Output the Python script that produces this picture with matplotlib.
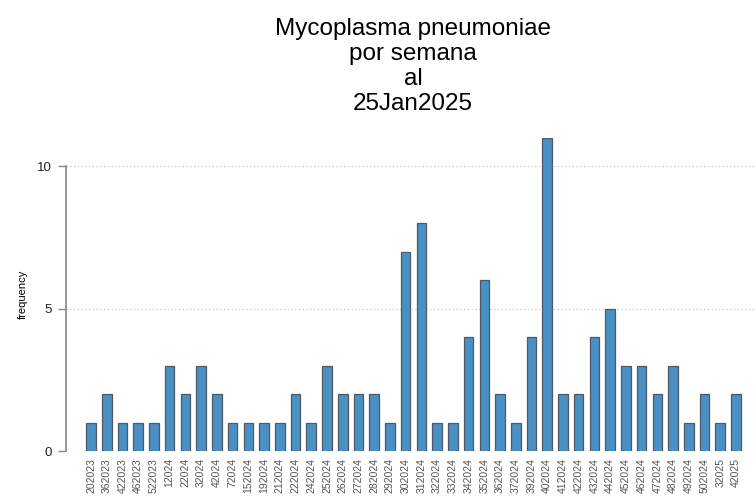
import numpy as np
import matplotlib
matplotlib.use('Agg')
import matplotlib.pyplot as plt

plt.rcParams['font.family'] = ['Liberation Sans', 'DejaVu Sans']

weeks = ['202023', '362023', '422023', '462023', '522023', '12024', '22024',
         '32024', '42024', '72024', '152024', '192024', '212024', '222024',
         '242024', '252024', '262024', '272024', '282024', '292024', '302024',
         '312024', '322024', '332024', '342024', '352024', '362024', '372024',
         '392024', '402024', '412024', '422024', '432024', '442024', '452024',
         '462024', '472024', '482024', '492024', '502024', '32025', '42025']
counts = [1, 2, 1, 1, 1, 3, 2, 3, 2, 1, 1, 1, 1, 2, 1, 3, 2, 2, 2, 1, 7, 8,
          1, 1, 4, 6, 2, 1, 4, 11, 2, 2, 4, 5, 3, 3, 2, 3, 1, 2, 1, 2]
yticks = [0, 5, 10]

fig = plt.figure(figsize=(7.56, 4.99), dpi=100)
ax = fig.add_axes([66 / 756, (499 - 451) / 499, (756 - 66) / 756, (451 - 138) / 499])

x = np.arange(len(weeks))
ax.bar(x, counts, width=0.61, color='#4a90c4', edgecolor='#4d5a66', linewidth=0.9, zorder=3)

ax.set_xlim(-1.59, len(weeks) - 1 + 1.27)
ax.set_ylim(0, 11)
ax.set_yticks(yticks)
ax.set_yticklabels([str(v) for v in yticks], fontsize=9.5, color='#222222')
ax.set_xticks(x)
ax.set_xticklabels(weeks, rotation=90, fontsize=7.5, color='#555555')
ax.tick_params(axis='x', length=0, pad=5)
ax.tick_params(axis='y', length=6, color='#888888', width=1, pad=4)

for v in yticks:
    ax.axhline(v, color='#c8c8c8', linestyle=(0, (1, 2)), linewidth=0.9, zorder=1)

for s in ['top', 'right', 'bottom']:
    ax.spines[s].set_visible(False)
ax.spines['left'].set_bounds(0, 10)
ax.spines['left'].set_color('#888888')
ax.spines['left'].set_linewidth(1.2)

ax.set_ylabel('frequency', fontsize=8, labelpad=7)

fig.text(413 / 756, 1 - 18 / 499, 'Mycoplasma pneumoniae\npor semana\nal\n25Jan2025',
         ha='center', va='top', fontsize=17.5, linespacing=1.17)

fig.savefig('out.png', dpi=100)
